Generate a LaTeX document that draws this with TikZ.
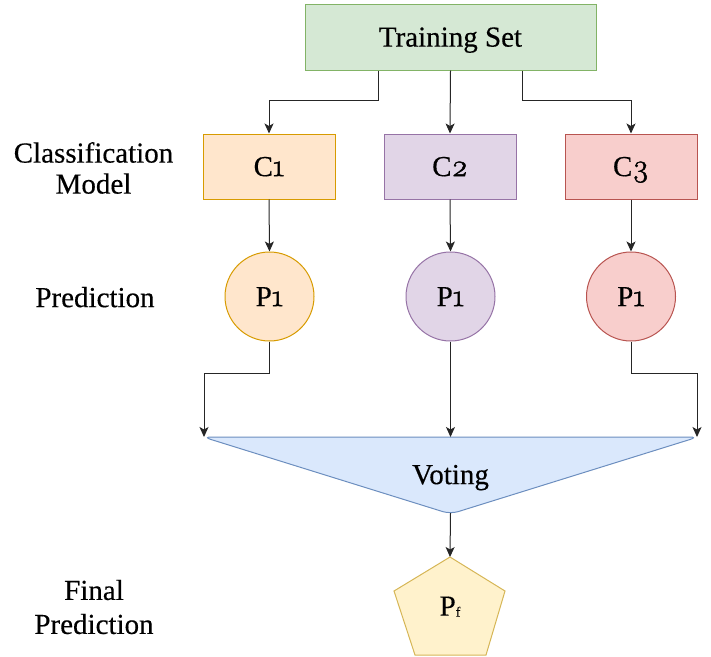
\documentclass[tikz,border=0pt]{standalone}
\usepackage{fontspec}
\setmainfont{Liberation Serif}[FakeBold=0.35]
\newfontfamily\osf{Latin Modern Roman}[Numbers=OldStyle, FakeBold=1.5, Scale=1.08]
\usetikzlibrary{arrows.meta}

\definecolor{grfill}{HTML}{D5E8D4}\definecolor{grline}{HTML}{82B366}
\definecolor{orfill}{HTML}{FFE6CC}\definecolor{orline}{HTML}{D79B00}
\definecolor{pufill}{HTML}{E1D5E7}\definecolor{puline}{HTML}{9673A6}
\definecolor{rdfill}{HTML}{F8CECC}\definecolor{rdline}{HTML}{B85450}
\definecolor{blfill}{HTML}{DAE8FC}\definecolor{blline}{HTML}{6C8EBF}
\definecolor{yefill}{HTML}{FFF2CC}\definecolor{yeline}{HTML}{D6B656}

\newcommand{\ofig}[1]{{\osf #1}}

\tikzset{
  lbl/.style={text height=19.2pt, text depth=0pt, inner sep=0pt},
  box/.style={lbl, rectangle, draw, line width=1pt, minimum width=132pt, minimum height=65pt},
  pcirc/.style={lbl, circle, draw, line width=1pt, minimum size=89pt},
  side/.style={align=center, inner sep=0pt},
  arr/.style={line width=1pt, black!85, -{Stealth[length=10pt,width=9pt,inset=2.5pt]}},
}

\begin{document}
\begin{tikzpicture}[x=1pt, y=-1pt, font=\fontsize{29}{31}\selectfont]
\useasboundingbox (0,0) rectangle (711,656);

% training data
\node[lbl, rectangle, draw=grline, fill=grfill, line width=1pt,
      minimum width=291pt, minimum height=66pt] (ts) at (450.5,37) {Training Set};

% classifiers
\node[box, draw=orline, fill=orfill] (c1) at (269,166.5) {C\ofig{1}};
\node[box, draw=puline, fill=pufill] (c2) at (450,166.5) {C\ofig{2}};
\node[box, draw=rdline, fill=rdfill] (c3) at (631,166.5) {C\ofig{3}};

% predictions
\node[pcirc, draw=orline, fill=orfill] (p1) at (269.5,296.5) {P\ofig{1}};
\node[pcirc, draw=puline, fill=pufill] (p2) at (450.5,296.5) {P\ofig{1}};
\node[pcirc, draw=rdline, fill=rdfill] (p3) at (631,296.5) {P\ofig{1}};

% voting funnel
\coordinate (vl) at (204,437);
\coordinate (vm) at (450.5,437);
\coordinate (vr) at (697,437);
\coordinate (vt) at (450.5,513);
\draw[draw=blline, fill=blfill, line width=1pt, rounded corners=8pt]
  (203,437) -- (698,437) -- (450.5,514) -- cycle;
\node[lbl] (vote) at (450.5,474.5) {Voting};

% final prediction
\coordinate (pft) at (450,557);
\draw[draw=yeline, fill=yefill, line width=1pt]
  (pft) -- (505,591) -- (486,655) -- (415,655) -- (394,591) -- cycle;
\node[lbl] (pf) at (450,606) {P\raisebox{-1pt}{\fontsize{14}{14}\selectfont f}};

% row labels
\node[side, font=\fontsize{29}{31}\selectfont] (lcm) at (93.5,168) {Classification\\Model};
\node[lbl] (lpr) at (95,297.5) {Prediction};
\node[side, font=\fontsize{29}{34}\selectfont] (lfp) at (94,607) {Final\\Prediction};

% connectors
\draw[arr] ([xshift=-72pt]ts.south) -- ++(0,30) -| (c1.north);
\draw[arr] (ts.south) -- (c2.north);
\draw[arr] ([xshift=71.5pt]ts.south) -- ++(0,30) -| (c3.north);

\draw[arr] (c1.south) -- (p1.north);
\draw[arr] (c2.south) -- (p2.north);
\draw[arr] (c3.south) -- (p3.north);

\draw[arr] (p1.south) -- ++(0,32) -| (vl);
\draw[arr] (p2.south) -- (vm);
\draw[arr] (p3.south) -- ++(0,32) -| (vr);

\draw[arr] (vt) -- (pft);
\end{tikzpicture}
\end{document}
